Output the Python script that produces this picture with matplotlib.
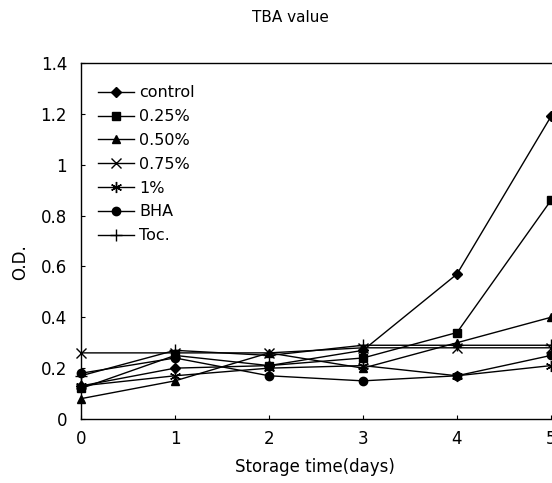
import matplotlib
matplotlib.use("Agg")
import matplotlib.pyplot as plt

days = [0, 1, 2, 3, 4, 5]
labels = ["control", "0.25%", "0.50%", "0.75%", "1%", "BHA", "Toc."]
control = [0.13, 0.20, 0.21, 0.27, 0.57, 1.19]
p025 = [0.12, 0.25, 0.21, 0.24, 0.34, 0.86]
p050 = [0.08, 0.15, 0.26, 0.20, 0.30, 0.40]
p075 = [0.26, 0.26, 0.26, 0.28, 0.28, 0.28]
p100 = [0.13, 0.17, 0.20, 0.21, 0.17, 0.21]
bha = [0.18, 0.24, 0.17, 0.15, 0.17, 0.25]
toc = [0.17, 0.27, 0.25, 0.29, 0.29, 0.29]

series = [control, p025, p050, p075, p100, bha, toc]
markers = ["D", "s", "^", "x", (6, 2, 0), "o", "+"]
msizes = [5, 6, 6, 7, 8, 6, 9]

plt.rcParams["font.family"] = "DejaVu Sans"

fig = plt.figure(figsize=(5.52, 4.83), dpi=100)
# x=0 at px 81, x=5 at px 551 -> axes runs past the right edge like the scan
ax = fig.add_axes([81 / 552, 64 / 483, 5.4 * 94 / 552, 356 / 483])

for vals, lab, m, ms in zip(series, labels, markers, msizes):
    ax.plot(days, vals, color="black", linewidth=1.0, marker=m, markersize=ms,
            markeredgewidth=1.0, label=lab, clip_on=False)

ax.set_xlim(0, 5.4)
ax.set_ylim(0, 1.4)
ax.set_xticks(days)
ax.set_yticks([0, 0.2, 0.4, 0.6, 0.8, 1.0, 1.2, 1.4])
ax.set_yticklabels(["0", "0.2", "0.4", "0.6", "0.8", "1", "1.2", "1.4"])
ax.tick_params(direction="in", length=3, labelsize=12, pad=10)
ax.tick_params(axis="x", pad=8)
for s in ax.spines.values():
    s.set_linewidth(1.0)

ax.legend(loc="upper left", bbox_to_anchor=(0.02, 0.955), frameon=False,
          fontsize=11.5, handlelength=2.3, handletextpad=0.3, labelspacing=0.55,
          borderaxespad=0)

fig.text(290 / 552, 1 - 18 / 483, "TBA value", ha="center", va="center", fontsize=11)
fig.text(315 / 552, 1 - 467 / 483, "Storage time(days)", ha="center", va="center", fontsize=12)
fig.text(20 / 552, 1 - 262 / 483, "O.D.", ha="center", va="center", rotation=90, fontsize=12)

fig.savefig("out.png", dpi=100)
